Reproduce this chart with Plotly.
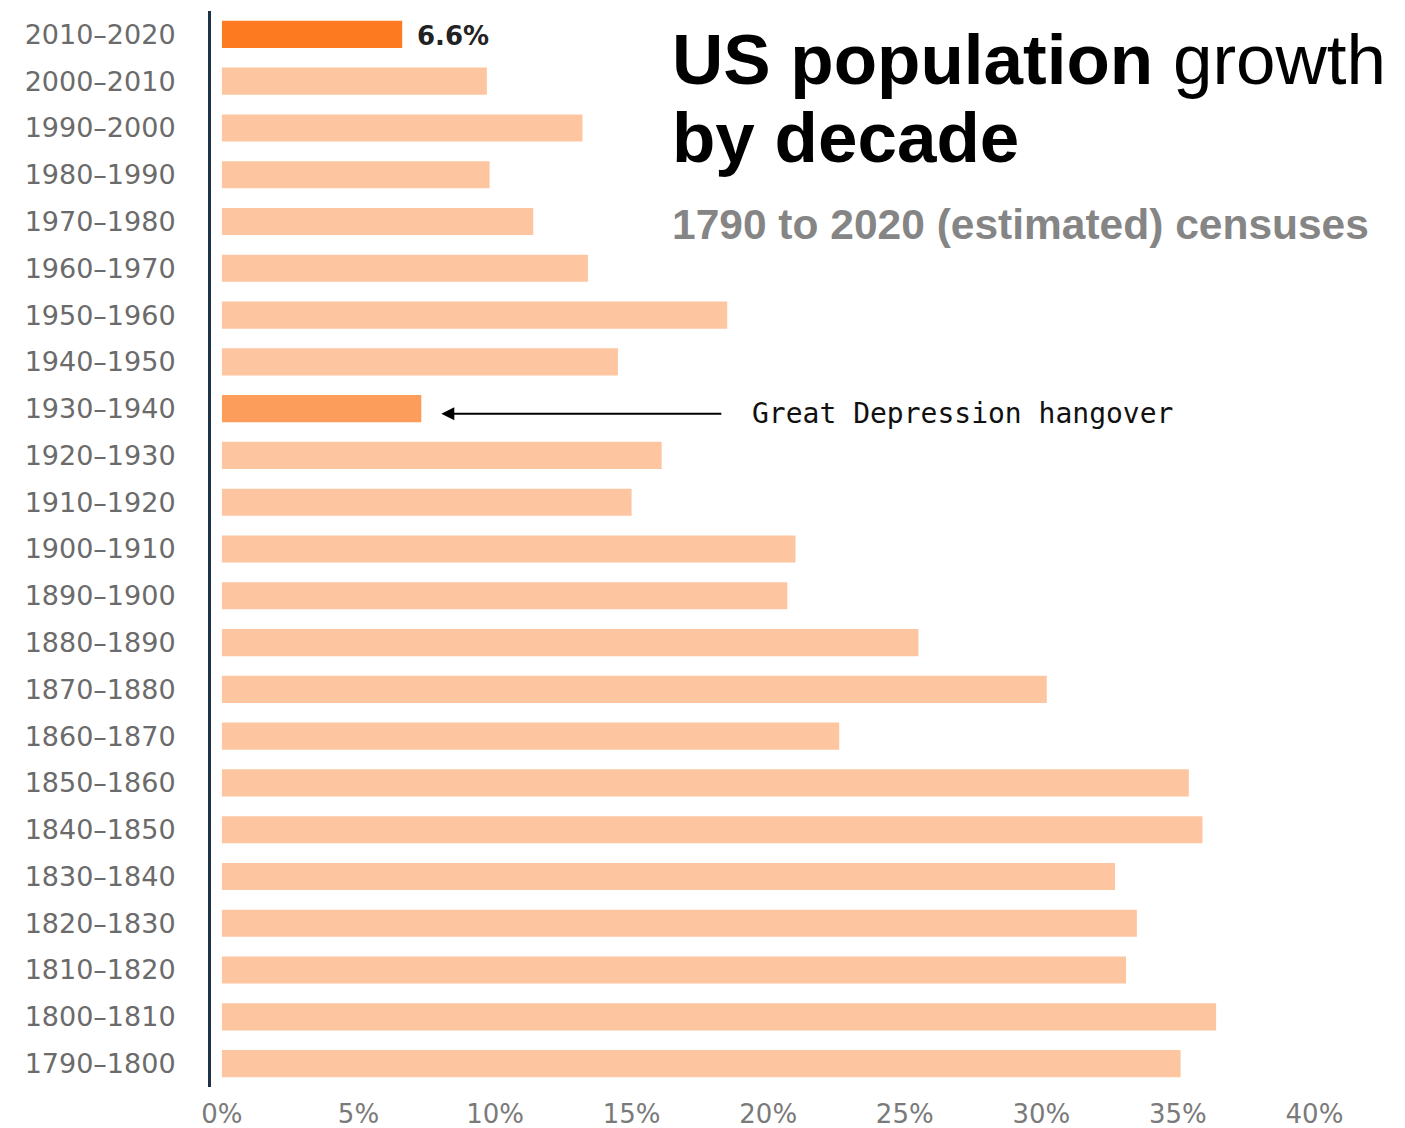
import plotly.graph_objects as go

# Decennial census periods, most recent first
decades = [
    "2010–2020", "2000–2010", "1990–2000", "1980–1990", "1970–1980",
    "1960–1970", "1950–1960", "1940–1950", "1930–1940", "1920–1930",
    "1910–1920", "1900–1910", "1890–1900", "1880–1890", "1870–1880",
    "1860–1870", "1850–1860", "1840–1850", "1830–1840", "1820–1830",
    "1810–1820", "1800–1810", "1790–1800",
]

# Population growth over each decade, percent
growth_pct = [
    6.6, 9.7, 13.2, 9.8, 11.4,
    13.4, 18.5, 14.5, 7.3, 16.1,
    15.0, 21.0, 20.7, 25.5, 30.2,
    22.6, 35.4, 35.9, 32.7, 33.5,
    33.1, 36.4, 35.1,
]

x_ticks = [0, 5, 10, 15, 20, 25, 30, 35, 40]

latest = "2010–2020"
depression = "1930–1940"

BASE = "#fdc6a1"
LATEST = "#fd7a21"
DEPRESSION = "#fd9d5b"

colors = []
for d in decades:
    if d == latest:
        colors.append(LATEST)
    elif d == depression:
        colors.append(DEPRESSION)
    else:
        colors.append(BASE)

W, H = 1405, 1128
L, R, T, B = 211, 25, 11, 41

fig = go.Figure(
    go.Bar(
        x=growth_pct,
        y=decades,
        orientation="h",
        marker=dict(color=colors, line=dict(width=0)),
        hoverinfo="skip",
    )
)

latest_val = growth_pct[decades.index(latest)]
dep_val = growth_pct[decades.index(depression)]

annotations = [
    # value label on the latest decade
    dict(
        x=latest_val, y=latest, xref="x", yref="y",
        text=f"<b>{latest_val}%</b>", showarrow=False,
        xanchor="left", yanchor="middle", xshift=13, yshift=-2,
        font=dict(family="DejaVu Sans", size=26, color="#222222"),
    ),
    # arrow pointing at the 1930s bar
    dict(
        x=dep_val, y=depression, xref="x", yref="y",
        text=" ", showarrow=True, arrowhead=2, arrowsize=1.3,
        arrowwidth=2, arrowcolor="#000000",
        ax=303, ay=0, axref="pixel", ayref="pixel",
        standoff=20, startstandoff=0, yshift=-5,
    ),
    dict(
        x=dep_val, y=depression, xref="x", yref="y",
        text="Great Depression hangover", showarrow=False,
        xanchor="left", yanchor="middle", xshift=329, yshift=-5,
        font=dict(family="DejaVu Sans Mono", size=28, color="#111111"),
    ),
]

# title block in the upper right
def px_to_paper(px_x, px_y):
    return (px_x - L) / (W - L - R), (H - B - px_y) / (H - T - B)

tx, ty1 = px_to_paper(670, 59)
_, ty2 = px_to_paper(670, 137)
_, ty3 = px_to_paper(670, 224)
annotations += [
    dict(
        x=tx, y=ty1, xref="paper", yref="paper", showarrow=False,
        xanchor="left", yanchor="middle",
        text="<b>US population</b> growth",
        font=dict(family="Liberation Sans, Arial", size=71, color="#000000"),
    ),
    dict(
        x=tx, y=ty2, xref="paper", yref="paper", showarrow=False,
        xanchor="left", yanchor="middle",
        text="<b>by decade</b>",
        font=dict(family="Liberation Sans, Arial", size=71, color="#000000"),
    ),
    dict(
        x=tx, y=ty3, xref="paper", yref="paper", showarrow=False,
        xanchor="left", yanchor="middle",
        text="<b>1790 to 2020 (estimated) censuses</b>",
        font=dict(family="Liberation Sans, Arial", size=42.5, color="#858585"),
    ),
]

fig.update_layout(
    width=W, height=H,
    margin=dict(l=L, r=R, t=T, b=B, autoexpand=False),
    paper_bgcolor="white", plot_bgcolor="white",
    bargap=0.42,
    showlegend=False,
    annotations=annotations,
)

fig.update_xaxes(
    range=[-0.4, 42.4],
    tickvals=x_ticks,
    ticktext=[f"{v}%" for v in x_ticks],
    showgrid=False, zeroline=False, showline=False,
    ticks="", ticklabelstandoff=9,
    tickfont=dict(family="DejaVu Sans", size=26, color="#7a7a7a"),
    fixedrange=True,
)

fig.update_yaxes(
    categoryorder="array", categoryarray=decades,
    autorange="reversed",
    showgrid=False, zeroline=False,
    showline=True, linewidth=3, linecolor="#1d3346",
    ticks="", ticklabelstandoff=27,
    tickfont=dict(family="DejaVu Sans", size=27, color="#6b6b6b"),
    fixedrange=True,
)

fig.write_html("out.html", config=dict(displayModeBar=False))
